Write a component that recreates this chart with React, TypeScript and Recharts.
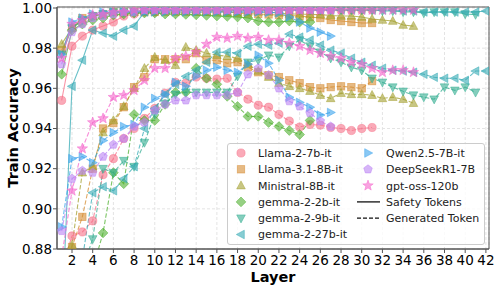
import React from "react";
import {
  LineChart,
  Line,
  XAxis,
  YAxis,
  CartesianGrid,
  ReferenceArea,
  Label,
} from "recharts";

// Layer axis ticks and accuracy ticks
const xTicks = [2, 4, 6, 8, 10, 12, 14, 16, 18, 20, 22, 24, 26, 28, 30, 32, 34, 36, 38, 40, 42];
const yTicks = [0.88, 0.9, 0.92, 0.94, 0.96, 0.98, 1.0];

// Safety Tokens (solid) – per model, layer 1..N
const llama2Safety = [0.954, 0.981, 0.986, 0.989, 0.991, 0.993, 0.996, 0.997, 0.998, 0.998, 0.999, 0.999, 0.999, 0.999, 0.999, 0.999, 0.999, 0.999, 0.999, 0.999, 0.999, 0.999, 0.999, 0.999, 0.999, 0.999, 0.999, 0.999, 0.999, 0.999, 0.999];
const llama31Safety = [0.979, 0.99, 0.995, 0.996, 0.997, 0.998, 0.998, 0.998, 0.998, 0.998, 0.998, 0.998, 0.998, 0.998, 0.998, 0.998, 0.998, 0.9975, 0.9972, 0.997, 0.9968, 0.9965, 0.9963, 0.996, 0.9955, 0.995, 0.994, 0.9935, 0.993, 0.9925, 0.9925];
const ministralSafety = [0.982, 0.99, 0.994, 0.996, 0.997, 0.998, 0.998, 0.998, 0.999, 0.999, 0.999, 0.999, 0.999, 0.999, 0.9985, 0.9985, 0.998, 0.998, 0.998, 0.998, 0.998, 0.9975, 0.997, 0.997, 0.9968, 0.9967, 0.9963, 0.996, 0.996, 0.9955, 0.9945, 0.994, 0.9935, 0.9915, 0.991];
const gemma2bSafety = [0.967, 0.989, 0.992, 0.994, 0.995, 0.9965, 0.997, 0.9975, 0.9975, 0.9975, 0.997, 0.997, 0.9968, 0.9966, 0.9963, 0.996, 0.9958, 0.9955, 0.995, 0.9935, 0.993, 0.993, 0.9935, 0.993, 0.993];
const gemma9bSafety = [0.977, 0.99, 0.994, 0.996, 0.997, 0.998, 0.998, 0.998, 0.999, 0.999, 0.999, 0.999, 0.999, 0.999, 0.999, 0.999, 0.999, 0.999, 0.999, 0.999, 0.999, 0.999, 0.999, 0.999, 0.999, 0.999, 0.999, 0.999, 0.999, 0.999, 0.999, 0.9985, 0.9985, 0.998, 0.998, 0.9975, 0.998, 0.998, 0.998, 0.997, 0.9967];
const gemma27bSafety = [0.842, 0.961, 0.974, 0.989, 0.9875, 0.986, 0.989, 0.991, 0.998, 0.999, 0.999, 0.999, 0.999, 0.999, 0.999, 0.999, 0.999, 0.999, 0.999, 0.999, 0.999, 0.999, 0.999, 0.999, 0.999, 0.999, 0.999, 0.999, 0.999, 0.999, 0.999, 0.999, 0.999, 0.9985, 0.9985, 0.998, 0.998, 0.998, 0.998, 0.998, 0.998, 0.9985];
const qwenSafety = [0.977, 0.993, 0.995, 0.997, 0.998, 0.998, 0.998, 0.998, 0.998, 0.998, 0.998, 0.998, 0.998, 0.998, 0.998, 0.998, 0.998, 0.998, 0.998, 0.998, 0.9978, 0.9975, 0.9955, 0.993, 0.99, 0.988, 0.986];
const deepseekSafety = [0.972, 0.988, 0.992, 0.995, 0.996, 0.997, 0.998, 0.998, 0.999, 0.999, 0.999, 0.999, 0.999, 0.999, 0.999, 0.999, 0.999, 0.999, 0.999, 0.999, 0.999, 0.999, 0.999, 0.999, 0.999, 0.999, 0.999];
const gptossSafety = [0.975, 0.992, 0.994, 0.9965, 0.997, 0.998, 0.998, 0.999, 0.999, 0.999, 0.999, 0.999, 0.999, 0.999, 0.999, 0.999, 0.999, 0.999, 0.999, 0.999, 0.999, 0.999, 0.999, 0.999, 0.999, 0.999, 0.999, 0.999, 0.999, 0.999, 0.999, 0.999, 0.999, 0.999, 0.999];

// Generated Token (dashed)
const llama2Generated = [0.87, 0.8865, 0.8885, 0.894, 0.917, 0.925, 0.935, 0.94, 0.945, 0.95, 0.9576, 0.963, 0.9626, 0.9656, 0.965, 0.9646, 0.965, 0.958, 0.9546, 0.9516, 0.9506, 0.947, 0.9437, 0.9407, 0.942, 0.9417, 0.9405, 0.94, 0.939, 0.94, 0.9405];
const llama31Generated = [0.865, 0.881, 0.896, 0.92, 0.94, 0.9427, 0.9506, 0.9606, 0.9656, 0.9745, 0.9745, 0.9745, 0.9745, 0.9775, 0.974, 0.974, 0.9725, 0.973, 0.9705, 0.968, 0.9665, 0.9656, 0.964, 0.9626, 0.9606, 0.96, 0.9606, 0.961, 0.9606, 0.96, 0.9636];
const ministralGenerated = [0.862, 0.882, 0.918, 0.921, 0.938, 0.944, 0.951, 0.96, 0.97, 0.9755, 0.974, 0.9715, 0.9805, 0.979, 0.9775, 0.9765, 0.976, 0.975, 0.972, 0.9686, 0.9656, 0.9626, 0.961, 0.96, 0.9586, 0.9566, 0.955, 0.9576, 0.957, 0.957, 0.9566, 0.955, 0.9556, 0.9546, 0.9526];
const gemma2bGenerated = [0.85, 0.855, 0.862, 0.87, 0.888, 0.918, 0.9125, 0.947, 0.944, 0.944, 0.952, 0.958, 0.958, 0.97, 0.965, 0.962, 0.956, 0.951, 0.946, 0.946, 0.943, 0.941, 0.939, 0.937, 0.944];
const gemma9bGenerated = [0.85, 0.86, 0.87, 0.885, 0.92, 0.918, 0.924, 0.921, 0.933, 0.947, 0.9526, 0.957, 0.958, 0.958, 0.958, 0.958, 0.958, 0.966, 0.973, 0.974, 0.9765, 0.9755, 0.981, 0.984, 0.981, 0.978, 0.975, 0.973, 0.9705, 0.969, 0.965, 0.963, 0.9606, 0.9585, 0.9566, 0.9556, 0.9546, 0.9606, 0.959, 0.9606, 0.958];
const gemma27bGenerated = [0.85, 0.86, 0.875, 0.908, 0.911, 0.909, 0.915, 0.921, 0.94, 0.95, 0.957, 0.962, 0.966, 0.969, 0.973, 0.978, 0.978, 0.9775, 0.981, 0.982, 0.9815, 0.9825, 0.987, 0.9855, 0.984, 0.9815, 0.979, 0.9775, 0.975, 0.973, 0.9715, 0.97, 0.969, 0.9686, 0.968, 0.967, 0.9655, 0.965, 0.965, 0.964, 0.9686, 0.9686];
const qwenGenerated = [0.891, 0.925, 0.926, 0.923, 0.934, 0.938, 0.941, 0.942, 0.9506, 0.955, 0.957, 0.963, 0.961, 0.966, 0.969, 0.9705, 0.969, 0.968, 0.972, 0.9765, 0.9725, 0.964, 0.9556, 0.953, 0.9506, 0.9467, 0.948];
const deepseekGenerated = [0.889, 0.915, 0.919, 0.918, 0.926, 0.932, 0.935, 0.941, 0.943, 0.949, 0.952, 0.954, 0.954, 0.9566, 0.9566, 0.9566, 0.9566, 0.958, 0.967, 0.97, 0.9666, 0.96, 0.9536, 0.951, 0.9477, 0.9437, 0.941];
const gptossGenerated = [0.876, 0.909, 0.93, 0.943, 0.945, 0.9556, 0.9566, 0.959, 0.964, 0.97, 0.97, 0.975, 0.976, 0.978, 0.982, 0.9855, 0.985, 0.986, 0.985, 0.9855, 0.984, 0.984, 0.9825, 0.981, 0.979, 0.9775, 0.976, 0.975, 0.973, 0.972, 0.97, 0.968, 0.969, 0.969, 0.968];

type Shape = "circle" | "square" | "up" | "diamond" | "down" | "left" | "right" | "pentagon" | "star";

const MODELS: { name: string; color: string; shape: Shape; safety: number[]; generated: number[] }[] = [
  { name: "Llama-2-7b-it", color: "#f77189", shape: "circle", safety: llama2Safety, generated: llama2Generated },
  { name: "Llama-3.1-8B-it", color: "#d58c32", shape: "square", safety: llama31Safety, generated: llama31Generated },
  { name: "Ministral-8B-it", color: "#a4a031", shape: "up", safety: ministralSafety, generated: ministralGenerated },
  { name: "gemma-2-2b-it", color: "#50b131", shape: "diamond", safety: gemma2bSafety, generated: gemma2bGenerated },
  { name: "gemma-2-9b-it", color: "#34ae91", shape: "down", safety: gemma9bSafety, generated: gemma9bGenerated },
  { name: "gemma-2-27b-it", color: "#37abb5", shape: "left", safety: gemma27bSafety, generated: gemma27bGenerated },
  { name: "Qwen2.5-7B-it", color: "#3ba3ec", shape: "right", safety: qwenSafety, generated: qwenGenerated },
  { name: "DeepSeekR1-7B", color: "#bb83f4", shape: "pentagon", safety: deepseekSafety, generated: deepseekGenerated },
  { name: "gpt-oss-120b", color: "#f565cc", shape: "star", safety: gptossSafety, generated: gptossGenerated },
];

const FONT = "'DejaVu Sans', sans-serif";

const toRows = (vals: number[]) => vals.map((v, i) => ({ layer: i + 1, acc: v }));

function poly(pts: number[][]) {
  return pts.map((p) => p.join(",")).join(" ");
}

function MarkerShape({ cx, cy, shape, color }: { cx: number; cy: number; shape: Shape; color: string }) {
  const common = { fill: color, fillOpacity: 0.6, stroke: color, strokeOpacity: 0.6, strokeWidth: 0.8 };
  if (cx == null || cy == null) return null;
  switch (shape) {
    case "circle":
      return <circle cx={cx} cy={cy} r={4.1} {...common} />;
    case "square":
      return <rect x={cx - 3.7} y={cy - 3.7} width={7.4} height={7.4} {...common} />;
    case "up":
      return <polygon points={poly([[cx, cy - 4.7], [cx + 4.3, cy + 3.3], [cx - 4.3, cy + 3.3]])} {...common} />;
    case "down":
      return <polygon points={poly([[cx, cy + 4.7], [cx + 4.3, cy - 3.3], [cx - 4.3, cy - 3.3]])} {...common} />;
    case "left":
      return <polygon points={poly([[cx - 4.7, cy], [cx + 3.3, cy - 4.3], [cx + 3.3, cy + 4.3]])} {...common} />;
    case "right":
      return <polygon points={poly([[cx + 4.7, cy], [cx - 3.3, cy - 4.3], [cx - 3.3, cy + 4.3]])} {...common} />;
    case "diamond":
      return <polygon points={poly([[cx, cy - 4.9], [cx + 4.9, cy], [cx, cy + 4.9], [cx - 4.9, cy]])} {...common} />;
    case "pentagon": {
      const pts = [0, 1, 2, 3, 4].map((k) => {
        const a = ((-90 + k * 72) * Math.PI) / 180;
        return [cx + 4.5 * Math.cos(a), cy + 4.5 * Math.sin(a)];
      });
      return <polygon points={poly(pts)} {...common} />;
    }
    case "star": {
      const pts = Array.from({ length: 10 }, (_, k) => {
        const a = ((-90 + k * 36) * Math.PI) / 180;
        const r = k % 2 === 0 ? 5.5 : 2.3;
        return [cx + r * Math.cos(a), cy + r * Math.sin(a)];
      });
      return <polygon points={poly(pts)} {...common} />;
    }
  }
  return null;
}

function LegendBox() {
  const rowY = (i: number) => 10 + i * 16.3;
  const col2: { label: string; kind: "model" | "solid" | "dashed"; m?: (typeof MODELS)[number] }[] = [
    { label: MODELS[6].name, kind: "model", m: MODELS[6] },
    { label: MODELS[7].name, kind: "model", m: MODELS[7] },
    { label: MODELS[8].name, kind: "model", m: MODELS[8] },
    { label: "Safety Tokens", kind: "solid" },
    { label: "Generated Token", kind: "dashed" },
  ];
  return (
    <div
      style={{
        position: "absolute",
        left: 227,
        top: 143,
        width: 258,
        height: 102,
        boxSizing: "border-box",
        border: "1px solid #cccccc",
        borderRadius: 3,
        background: "rgba(255,255,255,0.8)",
      }}
    >
      <svg width={258} height={102} style={{ position: "absolute", left: -1, top: -1 }}>
        {MODELS.slice(0, 6).map((m, i) => (
          <g key={m.name}>
            <MarkerShape cx={14} cy={rowY(i)} shape={m.shape} color={m.color} />
            <text x={31} y={rowY(i)} dy="0.36em" fontFamily={FONT} fontSize={11} fill="#222">
              {m.name}
            </text>
          </g>
        ))}
        {col2.map((it, i) => (
          <g key={it.label}>
            {it.kind === "model" && it.m && (
              <MarkerShape cx={141} cy={rowY(i)} shape={it.m.shape} color={it.m.color} />
            )}
            {it.kind !== "model" && (
              <line
                x1={130}
                x2={153}
                y1={rowY(i)}
                y2={rowY(i)}
                stroke="#111"
                strokeWidth={1.3}
                strokeDasharray={it.kind === "dashed" ? "4 2" : undefined}
              />
            )}
            <text x={159} y={rowY(i)} dy="0.36em" fontFamily={FONT} fontSize={11} fill="#222">
              {it.label}
            </text>
          </g>
        ))}
      </svg>
    </div>
  );
}

export default function App() {
  return (
    <div style={{ position: "absolute", left: 0, top: 0, width: 498, height: 289, background: "#fff" }}>
      <LineChart width={498} height={289} margin={{ top: 7, right: 9, bottom: 0, left: 0 }}>
        <CartesianGrid stroke="#e4e4e4" strokeDasharray="3 2" />
        <XAxis
          type="number"
          dataKey="layer"
          domain={[0.55, 42.3]}
          allowDataOverflow
          ticks={xTicks}
          interval={0}
          height={40}
          tickSize={4}
          tickMargin={2}
          axisLine={{ stroke: "#555" }}
          tickLine={{ stroke: "#555" }}
          tick={{ fontSize: 13.5, fill: "#000", fontFamily: FONT }}
        >
          <Label
            content={() => (
              <text x={273} y={282} textAnchor="middle" fontFamily={FONT} fontSize={14.5} fontWeight="bold" fill="#000">
                Layer
              </text>
            )}
          />
        </XAxis>
        <YAxis
          type="number"
          domain={[0.88, 1.0005]}
          allowDataOverflow
          ticks={yTicks}
          width={57}
          tickSize={4}
          tickMargin={1}
          axisLine={{ stroke: "#555" }}
          tickLine={{ stroke: "#555" }}
          tickFormatter={(v: number) => v.toFixed(2)}
          tick={{ fontSize: 13.5, fill: "#000", fontFamily: FONT }}
        >
          <Label
            content={() => (
              <text
                x={18}
                y={128}
                transform="rotate(-90 18 128)"
                textAnchor="middle"
                fontFamily={FONT}
                fontSize={14.5}
                fontWeight="bold"
                fill="#000"
              >
                Train Accuracy
              </text>
            )}
          />
        </YAxis>
        <ReferenceArea x1={0.55} x2={42.3} y1={0.88} y2={1.0005} fill="none" stroke="#555" strokeWidth={1} ifOverflow="visible" />
        {MODELS.map((m) => (
          <Line
            key={m.name + "-safety"}
            data={toRows(m.safety)}
            dataKey="acc"
            type="linear"
            stroke={m.color}
            strokeOpacity={0.75}
            strokeWidth={1.1}
            isAnimationActive={false}
            dot={(p: any) => <MarkerShape key={m.name + "-s-" + p.index} cx={p.cx} cy={p.cy} shape={m.shape} color={m.color} />}
            activeDot={false}
          />
        ))}
        {MODELS.map((m) => (
          <Line
            key={m.name + "-generated"}
            data={toRows(m.generated)}
            dataKey="acc"
            type="linear"
            stroke={m.color}
            strokeOpacity={0.75}
            strokeWidth={1.1}
            strokeDasharray="4.5 2"
            isAnimationActive={false}
            dot={(p: any) => <MarkerShape key={m.name + "-g-" + p.index} cx={p.cx} cy={p.cy} shape={m.shape} color={m.color} />}
            activeDot={false}
          />
        ))}
      </LineChart>
      <LegendBox />
    </div>
  );
}
